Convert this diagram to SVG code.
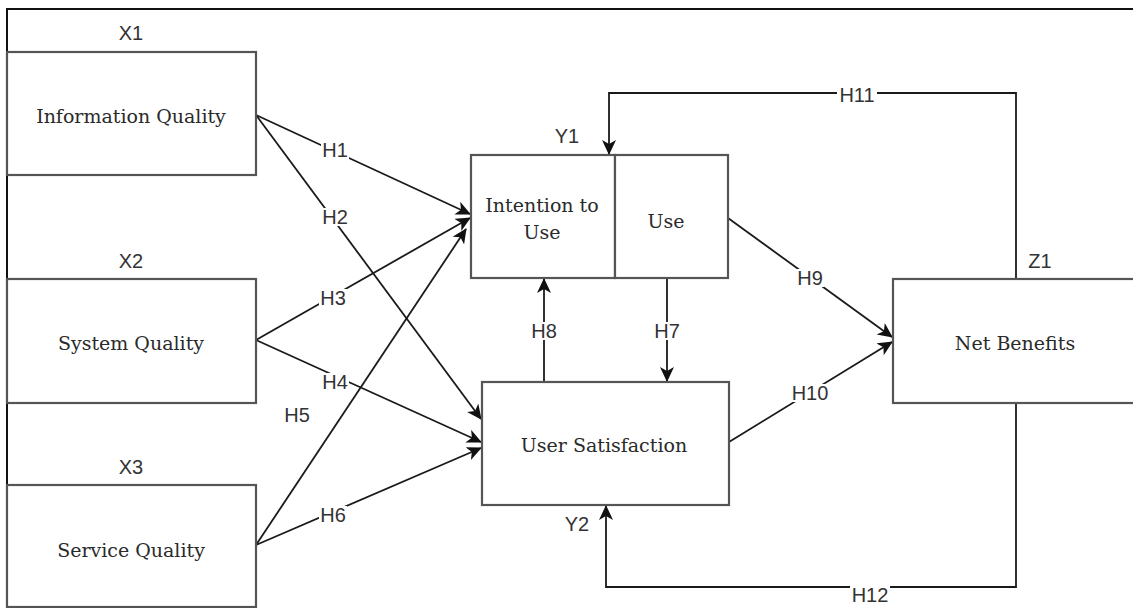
<svg xmlns="http://www.w3.org/2000/svg" width="1133" height="608" viewBox="0 0 1133 608">
<defs>
<marker id="arr" markerUnits="userSpaceOnUse" markerWidth="18" markerHeight="16" refX="14" refY="7" orient="auto">
<path d="M0,0 L15,7 L0,14 L4,7 z" fill="#111"/>
</marker>
<style>
.box{fill:#fff;stroke:#555;stroke-width:2.2}
.frame{fill:none;stroke:#111;stroke-width:2}
.ln{fill:none;stroke:#1a1a1a;stroke-width:1.8}
.arrow{marker-end:url(#arr)}
.nt{font-family:"DejaVu Serif","Liberation Serif",serif;font-size:19px;fill:#2a2a2a;text-anchor:middle;dominant-baseline:central}
.lb{font-family:"Liberation Sans",Arial,sans-serif;font-size:20px;fill:#333;text-anchor:middle;dominant-baseline:central}
.bg{fill:#fff}
</style>
</defs>
<rect width="1133" height="608" fill="#fff"/>
<path class="frame" d="M7,608 V9 H1133"/>

<g id="connectors">
<line class="ln arrow" x1="256" y1="115" x2="470" y2="214"/>
<line class="ln arrow" x1="256" y1="115" x2="481" y2="419"/>
<line class="ln arrow" x1="256" y1="340" x2="470" y2="218"/>
<line class="ln arrow" x1="256" y1="340" x2="481" y2="442"/>
<line class="ln arrow" x1="256" y1="545" x2="466" y2="229"/>
<line class="ln arrow" x1="256" y1="545" x2="481" y2="448"/>
<line class="ln arrow" x1="667" y1="279" x2="667" y2="381"/>
<line class="ln arrow" x1="544" y1="382" x2="544" y2="279"/>
<line class="ln arrow" x1="728" y1="218" x2="892" y2="337"/>
<line class="ln arrow" x1="729" y1="442" x2="892" y2="342"/>
<path class="ln arrow" d="M1016,279 V93 H609 V154"/>
<path class="ln arrow" d="M1016,403 V587 H606 V506"/>
<g id="edge-labels">
<rect class="bg" x="321" y="141" width="28" height="18"/><text class="lb" x="335" y="150">H1</text>
<rect class="bg" x="321" y="208" width="28" height="18"/><text class="lb" x="335" y="217">H2</text>
<rect class="bg" x="319" y="289" width="28" height="18"/><text class="lb" x="333" y="298">H3</text>
<rect class="bg" x="321" y="373" width="28" height="18"/><text class="lb" x="335" y="382">H4</text>
<text class="lb" x="297" y="415">H5</text>
<rect class="bg" x="319" y="506" width="28" height="18"/><text class="lb" x="333" y="515">H6</text>
<rect class="bg" x="653" y="322" width="28" height="18"/><text class="lb" x="667" y="331">H7</text>
<rect class="bg" x="530" y="322" width="28" height="18"/><text class="lb" x="544" y="331">H8</text>
<rect class="bg" x="796" y="269" width="28" height="18"/><text class="lb" x="810" y="278">H9</text>
<rect class="bg" x="790" y="384" width="40" height="18"/><text class="lb" x="810" y="393">H10</text>
<rect class="bg" x="837" y="86" width="40" height="18"/><text class="lb" x="857" y="95">H11</text>
<rect class="bg" x="850" y="586" width="40" height="18"/><text class="lb" x="870" y="595">H12</text>
</g>
</g>

<g id="X1">
<rect class="box" x="7" y="52" width="249" height="123"/>
<text class="nt" x="131" y="116">Information Quality</text>
<text class="lb" x="131" y="33">X1</text>
</g>
<g id="X2">
<rect class="box" x="7" y="279" width="249" height="124"/>
<text class="nt" x="131" y="343">System Quality</text>
<text class="lb" x="131" y="261">X2</text>
</g>
<g id="X3">
<rect class="box" x="7" y="485" width="249" height="122"/>
<text class="nt" x="131" y="550">Service Quality</text>
<text class="lb" x="131" y="467">X3</text>
</g>
<g id="Y1">
<rect class="box" x="471" y="155" width="144" height="123"/>
<rect class="box" x="615" y="155" width="113" height="123"/>
<text class="nt" x="542" y="205">Intention to</text>
<text class="nt" x="542" y="232">Use</text>
<text class="nt" x="666" y="221">Use</text>
<text class="lb" x="567" y="136">Y1</text>
</g>
<g id="Y2">
<rect class="box" x="482" y="382" width="247" height="123"/>
<text class="nt" x="604" y="445">User Satisfaction</text>
<text class="lb" x="577" y="524">Y2</text>
</g>
<g id="Z1">
<rect class="box" x="893" y="279" width="250" height="124"/>
<text class="nt" x="1015" y="343">Net Benefits</text>
<text class="lb" x="1040" y="261">Z1</text>
</g>
</svg>
